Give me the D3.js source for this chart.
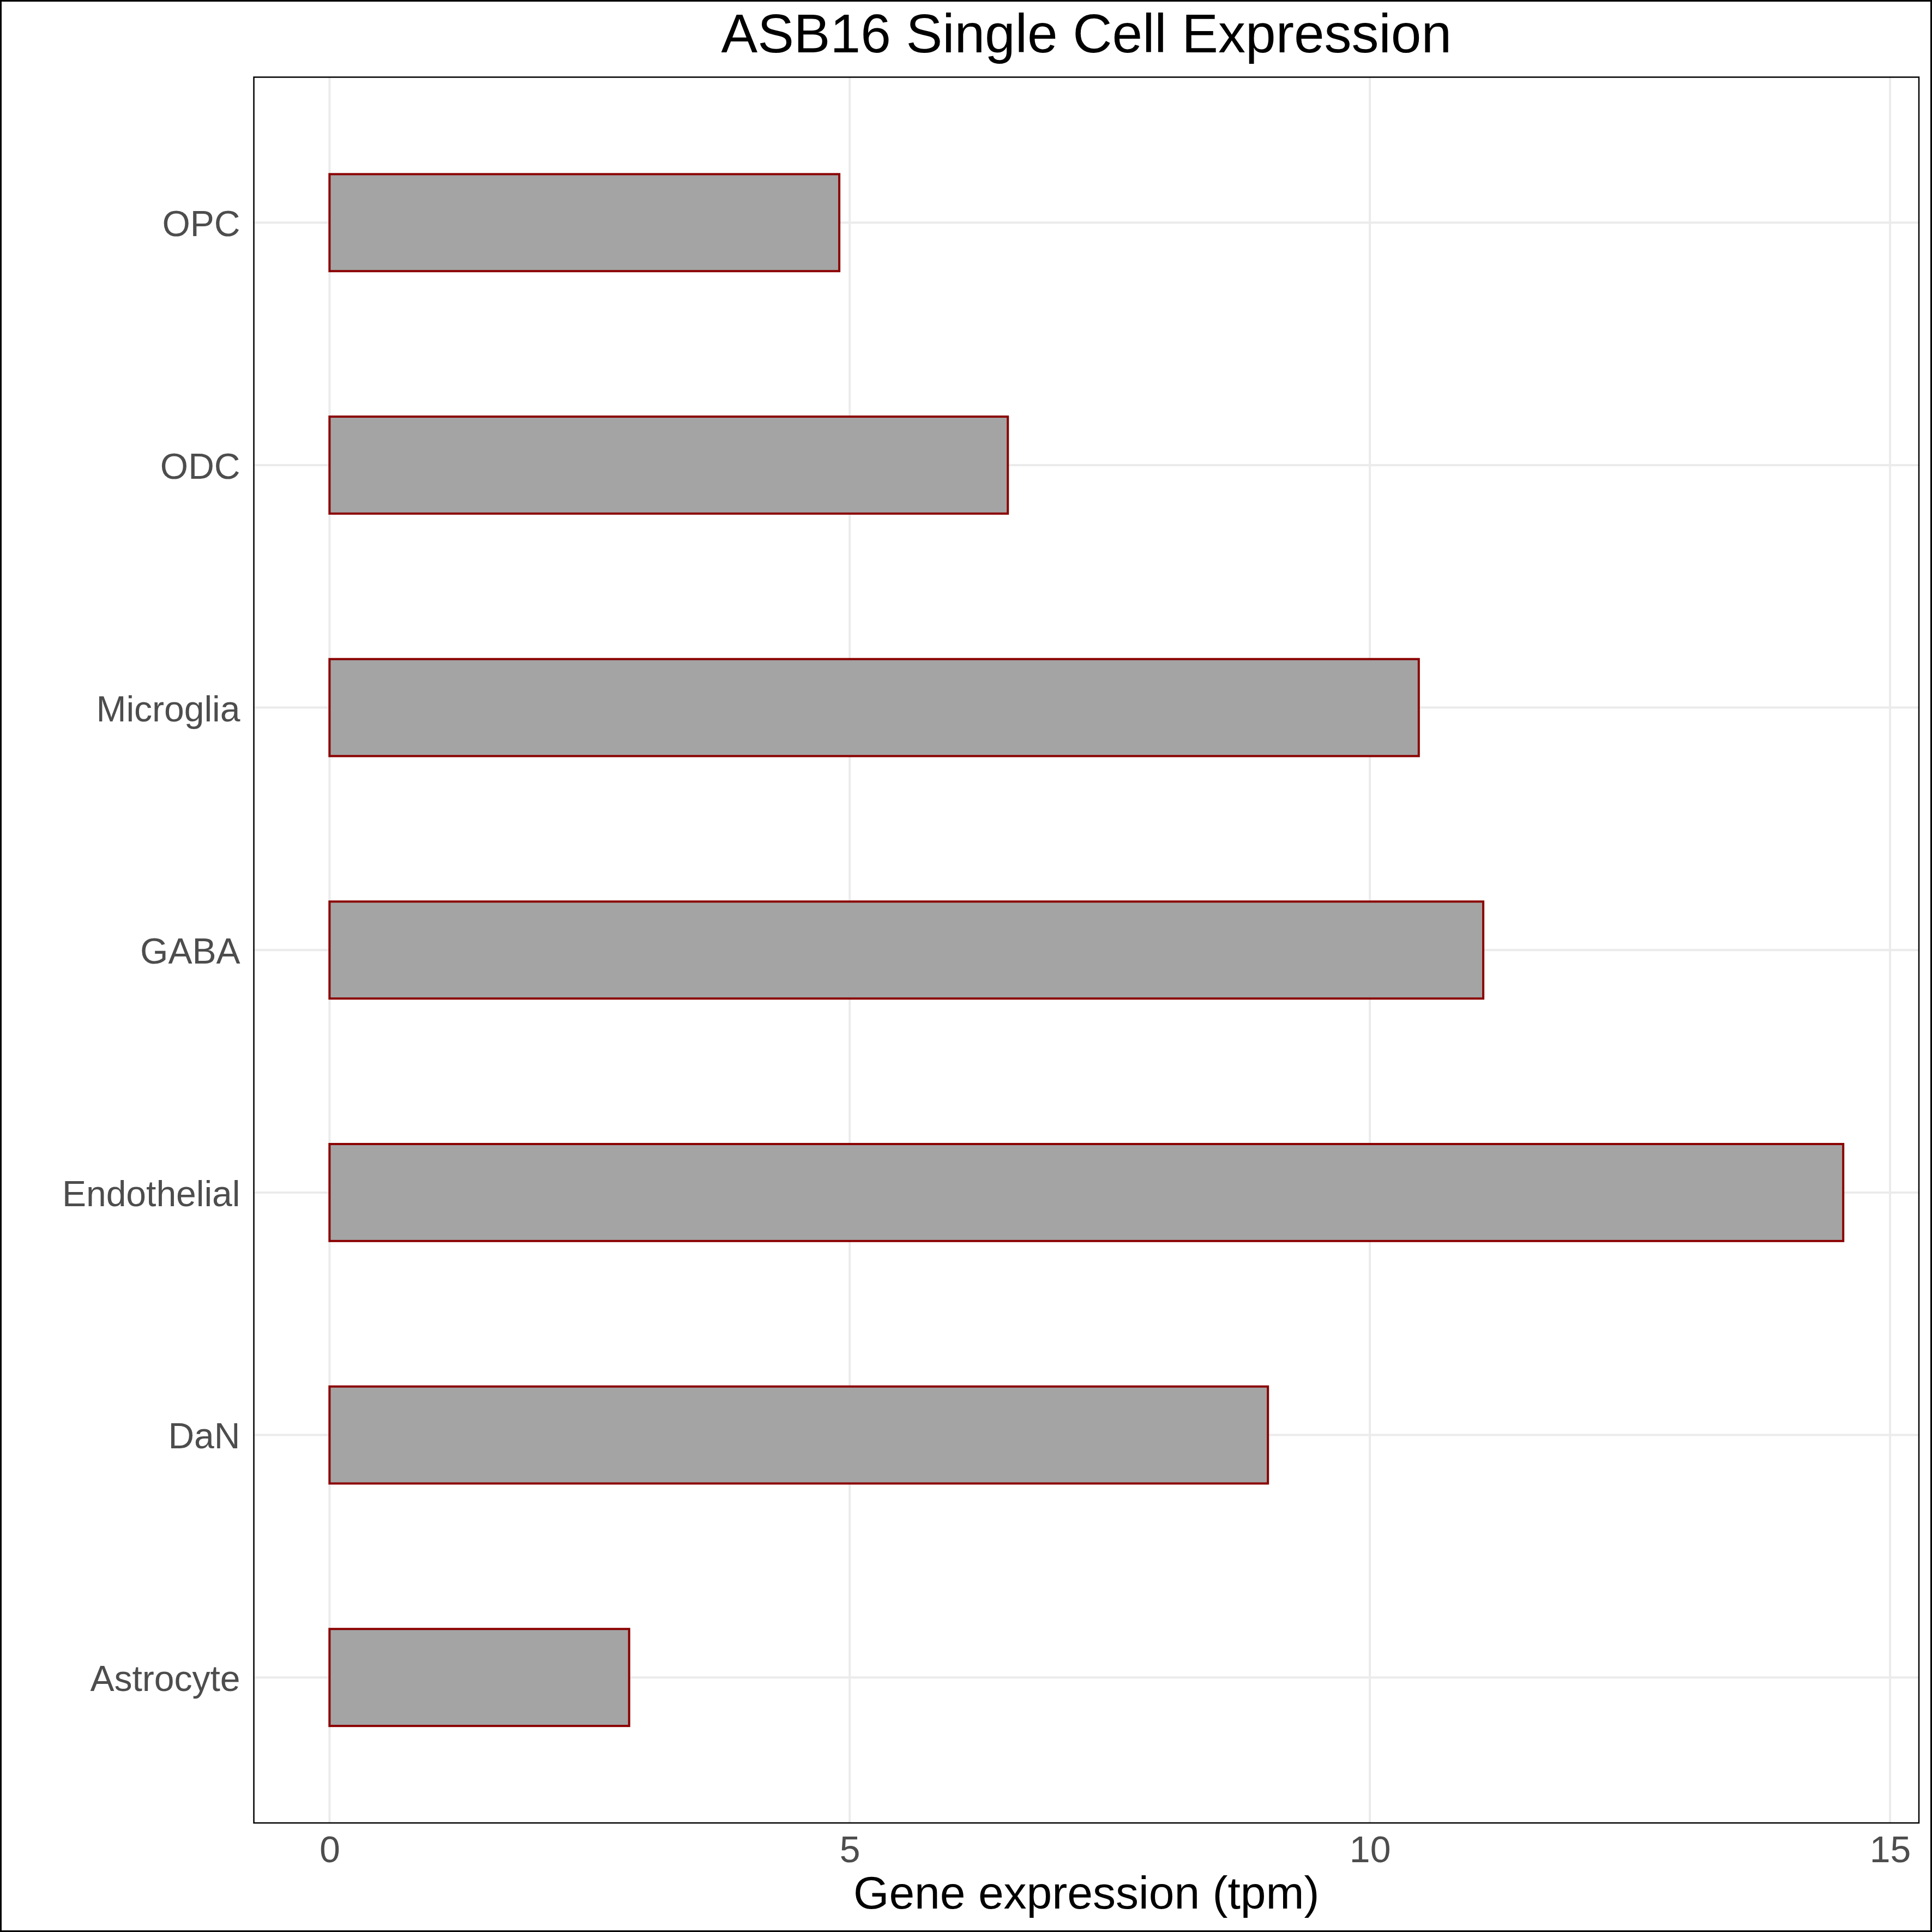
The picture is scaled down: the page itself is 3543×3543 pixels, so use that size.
<!DOCTYPE html>
<html>
<head>
<meta charset="utf-8">
<script src="https://cdn.jsdelivr.net/npm/d3@7"></script>
<style>
  html, body { margin: 0; padding: 0; background: #ffffff; }
  svg { display: block; }
  text { font-family: "Liberation Sans", Arial, Helvetica, sans-serif; }
</style>
</head>
<body>
<script>
// Data (top to bottom as displayed)
const categories = ["OPC", "ODC", "Microglia", "GABA", "Endothelial", "DaN", "Astrocyte"];
const values = [4.90, 6.52, 10.47, 11.09, 14.55, 9.02, 2.88];
const xTicks = [0, 5, 10, 15];
const titleText = "ASB16 Single Cell Expression";
const xTitleText = "Gene expression (tpm)";

const W = 3543, H = 3543;
const panel = { left: 465.5, right: 3519, top: 141.5, bottom: 3343 };

const svg = d3.select("body").append("svg")
  .attr("width", W).attr("height", H)
  .attr("viewBox", `0 0 ${W} ${H}`);

svg.append("rect").attr("x", 0).attr("y", 0).attr("width", W).attr("height", H)
  .attr("fill", "#ffffff");

const maxV = d3.max(values);
const pad = 0.05 * maxV;
const x = d3.scaleLinear().domain([0 - pad, maxV + pad]).range([panel.left, panel.right]);
const y = d3.scalePoint().domain(categories).range([panel.top, panel.bottom]).padding(0.6);
const barH = 0.4 * y.step();

// Grid
const grid = svg.append("g");
grid.selectAll("line.v").data(xTicks).join("line")
  .attr("class", "v")
  .attr("x1", d => x(d)).attr("x2", d => x(d))
  .attr("y1", panel.top).attr("y2", panel.bottom)
  .attr("stroke", "#EBEBEB").attr("stroke-width", 4);
grid.selectAll("line.h").data(categories).join("line")
  .attr("class", "h")
  .attr("x1", panel.left).attr("x2", panel.right)
  .attr("y1", d => y(d)).attr("y2", d => y(d))
  .attr("stroke", "#EBEBEB").attr("stroke-width", 4);

// Bars
svg.append("g").selectAll("rect").data(categories).join("rect")
  .attr("x", x(0))
  .attr("y", d => y(d) - barH / 2)
  .attr("width", (d, i) => x(values[i]) - x(0))
  .attr("height", barH)
  .attr("fill", "#A4A4A4")
  .attr("stroke", "#8B0000")
  .attr("stroke-width", 4);

// Panel border
svg.append("rect")
  .attr("x", panel.left).attr("y", panel.top)
  .attr("width", panel.right - panel.left).attr("height", panel.bottom - panel.top)
  .attr("fill", "none").attr("stroke", "#000000").attr("stroke-width", 2.5);

// Axes
const xAxis = svg.append("g")
  .attr("transform", `translate(0,${panel.bottom})`)
  .call(d3.axisBottom(x).tickValues(xTicks).tickFormat(d3.format("d")).tickSize(0).tickPadding(24));
xAxis.select(".domain").remove();
xAxis.selectAll("text").attr("font-size", 68).attr("fill", "#4D4D4D")
  .attr("font-family", "Liberation Sans, Arial, sans-serif");

const yAxis = svg.append("g")
  .attr("transform", `translate(${panel.left},0)`)
  .call(d3.axisLeft(y).tickSize(0).tickPadding(25));
yAxis.select(".domain").remove();
yAxis.selectAll("text").attr("font-size", 66).attr("fill", "#4D4D4D")
  .attr("dy", "0.37em")
  .attr("font-family", "Liberation Sans, Arial, sans-serif");

// Titles
const cx = (panel.left + panel.right) / 2;
svg.append("text")
  .attr("x", cx).attr("y", 96)
  .attr("text-anchor", "middle")
  .attr("font-size", 100).attr("fill", "#000000")
  .text(titleText);

svg.append("text")
  .attr("x", cx).attr("y", 3500)
  .attr("text-anchor", "middle")
  .attr("font-size", 84).attr("fill", "#000000")
  .text(xTitleText);

// Outer border
svg.append("rect").attr("x", 1.5).attr("y", 1.5).attr("width", W - 3).attr("height", H - 3)
  .attr("fill", "none").attr("stroke", "#000000").attr("stroke-width", 3);
</script>
</body>
</html>
